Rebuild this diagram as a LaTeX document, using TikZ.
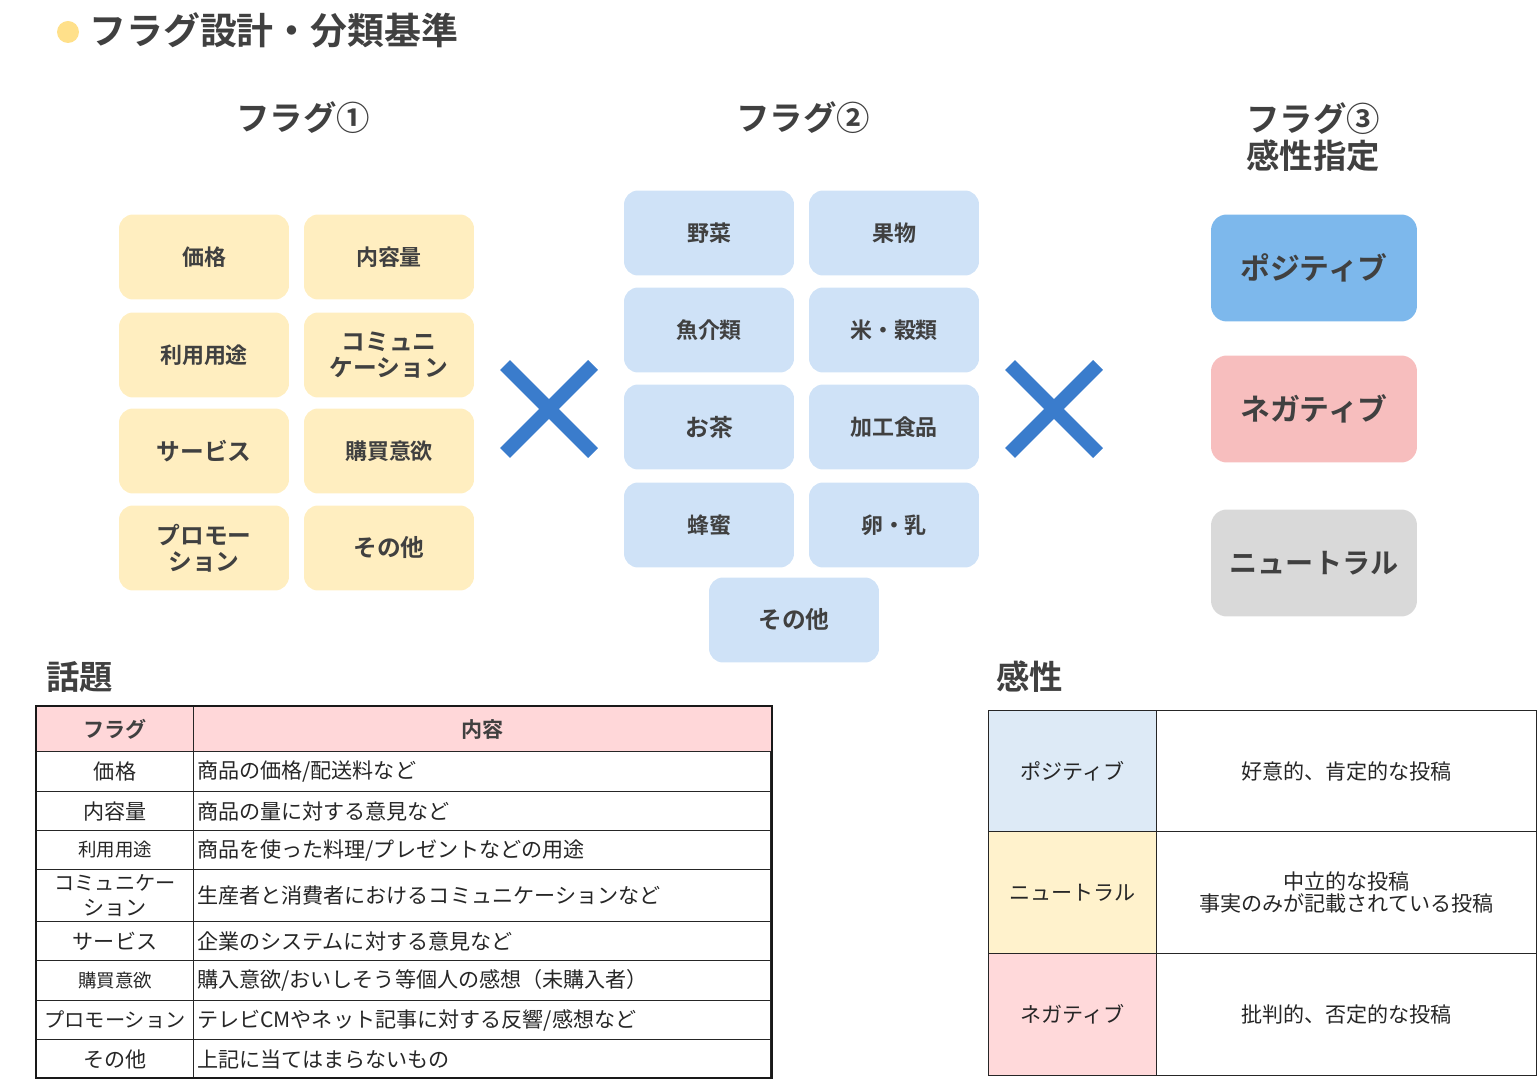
\documentclass[tikz,border=0pt]{standalone}
\usepackage{fontspec}
\setmainfont{Noto Sans CJK JP}[BoldFont={Noto Sans CJK JP Bold}]
\usetikzlibrary{positioning}
\definecolor{ink}{HTML}{404040}
\definecolor{cream}{HTML}{FFEEC0}
\definecolor{sky}{HTML}{CFE2F7}
\definecolor{posblue}{HTML}{7DB8EC}
\definecolor{negpink}{HTML}{F7BEBE}
\definecolor{neugray}{HTML}{D9D9D9}
\definecolor{crossblue}{HTML}{3A7CCC}
\definecolor{dot}{HTML}{FFE08A}
\definecolor{headpink}{HTML}{FFD7D9}
\definecolor{celblue}{HTML}{DDEAF6}
\definecolor{celyellow}{HTML}{FFF2CC}
\definecolor{celpink}{HTML}{FFD9DA}
\tikzset{
  heading/.style={text=ink,font=\bfseries\fontsize{19}{22}\selectfont,align=center},
  topicbox/.style={rounded corners=8pt,fill=cream,minimum width=3.4cm,minimum height=1.7cm,
    text=ink,font=\bfseries\fontsize{12.5}{14}\selectfont,align=center},
  foodbox/.style={rounded corners=8pt,fill=sky,minimum width=3.4cm,minimum height=1.7cm,
    text=ink,font=\bfseries\fontsize{12.5}{14}\selectfont,align=center},
  senbox/.style={rounded corners=9pt,minimum width=4.12cm,minimum height=2.14cm,
    text=ink,font=\bfseries\fontsize{17}{20}\selectfont},
  crossline/.style={crossblue,line width=8pt},
  cell/.style={draw=black!85,line width=0.6pt,inner sep=0pt,anchor=north west,
    font=\fontsize{12}{14}\selectfont,text=black!85,align=center},
  textcell/.style={cell,align=left,inner xsep=2pt}
}
\begin{document}
\begin{tikzpicture}[x=0.02cm,y=-0.02cm]
\useasboundingbox (0,0) rectangle (1538,1087);
% title
\fill[dot] (68,32) circle (11);
\node[anchor=west,inner sep=0pt,text=ink,font=\bfseries\fontsize{21}{26}\selectfont] (title) at (89,30) {フラグ設計・分類基準};
% column headings
\node[heading] (h1) at (303,118) {フラグ①};
\node[heading] (h2) at (803,118) {フラグ②};
\node[heading,font=\bfseries\fontsize{19}{21}\selectfont] (h3) at (1313,137) {フラグ③\\感性指定};
% flag 1: topics
\node[topicbox] (t1) at (204,257) {価格};
\node[topicbox] (t2) at (389,257) {内容量};
\node[topicbox] (t3) at (204,355) {利用用途};
\node[topicbox,font=\bfseries\fontsize{13.5}{15}\selectfont] (t4) at (389,355) {コミュニ\\ケーション};
\node[topicbox,font=\bfseries\fontsize{13.5}{15}\selectfont] (t5) at (204,451) {サービス};
\node[topicbox] (t6) at (389,451) {購買意欲};
\node[topicbox,font=\bfseries\fontsize{13.5}{15}\selectfont] (t7) at (204,548) {プロモー\\ション};
\node[topicbox,font=\bfseries\fontsize{13.5}{15}\selectfont] (t8) at (389,548) {その他};
% flag 2: foods
\node[foodbox] (f1) at (709,233) {野菜};
\node[foodbox] (f2) at (894,233) {果物};
\node[foodbox] (f3) at (709,330) {魚介類};
\node[foodbox] (f4) at (894,330) {米・穀類};
\node[foodbox,font=\bfseries\fontsize{13.5}{15}\selectfont] (f5) at (709,427) {お茶};
\node[foodbox] (f6) at (894,427) {加工食品};
\node[foodbox] (f7) at (709,525) {蜂蜜};
\node[foodbox] (f8) at (894,525) {卵・乳};
\node[foodbox,font=\bfseries\fontsize{13.5}{15}\selectfont] (f9) at (794,620) {その他};
% crosses
\draw[crossline] (505,365) -- (593,453) (593,365) -- (505,453);
\draw[crossline] (1010,365) -- (1098,453) (1098,365) -- (1010,453);
% flag 3: sentiment
\node[senbox,fill=posblue] (pos) at (1314,268) {ポジティブ};
\node[senbox,fill=negpink] (neg) at (1314,409) {ネガティブ};
\node[senbox,fill=neugray,font=\bfseries\fontsize{16}{20}\selectfont] (neu) at (1314,563) {ニュートラル};
% topic table
\node[heading,anchor=west,inner sep=0pt] (topiclbl) at (46,677) {話題};
\node[cell,fill=headpink,minimum width=3.14cm,minimum height=0.9cm,font=\bfseries\fontsize{12}{14}\selectfont,text=ink] (th1) at (36,706) {フラグ};
\node[cell,fill=headpink,minimum width=11.58cm,minimum height=0.9cm,font=\bfseries\fontsize{12}{14}\selectfont,text=ink] (th2) at (193,706) {内容};
\foreach \y/\h/\a/\b in {751/0.8/価格/{商品の価格/配送料など},
    791/0.78/内容量/{商品の量に対する意見など},
    830/0.78/{\fontsize{10.5}{12}\selectfont 利用用途}/{商品を使った料理/プレゼントなどの用途},
    869/1.04/{\fontsize{11.5}{12}\selectfont コミュニケー\\ション}/{生産者と消費者におけるコミュニケーションなど},
    921/0.78/サービス/{企業のシステムに対する意見など},
    960/0.8/{\fontsize{10.5}{12}\selectfont 購買意欲}/{購入意欲/おいしそう等個人の感想（未購入者）},
    1000/0.78/{\fontsize{11.5}{12}\selectfont プロモーション}/{テレビCMやネット記事に対する反響/感想など},
    1039/0.78/その他/{上記に当てはまらないもの}}{
  \node[cell,minimum width=3.14cm,minimum height=\h cm] (a\y) at (36,\y) {\a};
  \node[textcell,text width=11.4cm,minimum height=\h cm] (b\y) at (193,\y) {\b};
}
\draw[black!90,line width=1.2pt] (36,706) rectangle (772,1078);
% sentiment table
\node[heading,anchor=west,inner sep=0pt] (senlbl) at (996,677) {感性};
\node[cell,fill=celblue,minimum width=3.36cm,minimum height=2.42cm] (s1) at (988,710) {ポジティブ};
\node[cell,minimum width=7.6cm,minimum height=2.42cm] (d1) at (1156,710) {好意的、肯定的な投稿};
\node[cell,fill=celyellow,minimum width=3.36cm,minimum height=2.44cm] (s2) at (988,831) {ニュートラル};
\node[cell,minimum width=7.6cm,minimum height=2.44cm,font=\fontsize{12}{12.5}\selectfont] (d2) at (1156,831) {中立的な投稿\\事実のみが記載されている投稿};
\node[cell,fill=celpink,minimum width=3.36cm,minimum height=2.44cm] (s3) at (988,953) {ネガティブ};
\node[cell,minimum width=7.6cm,minimum height=2.44cm] (d3) at (1156,953) {批判的、否定的な投稿};
\end{tikzpicture}
\end{document}
